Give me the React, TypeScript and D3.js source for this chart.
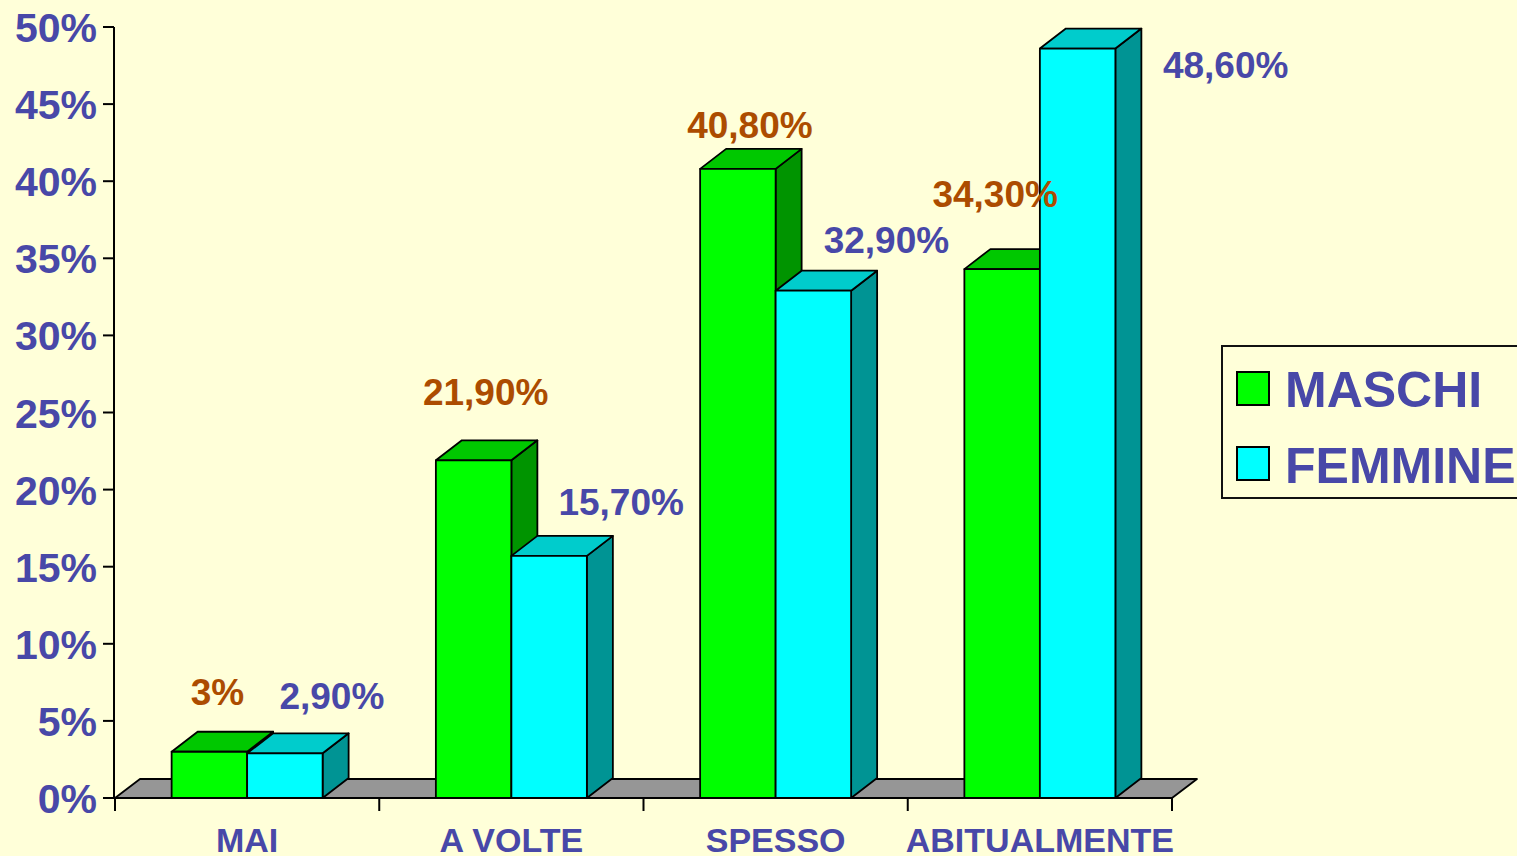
import React from "react";
import * as d3 from "d3";

const categories = ["MAI", "A VOLTE", "SPESSO", "ABITUALMENTE"];
const series = ["MASCHI", "FEMMINE"];
const maschi = [3, 21.9, 40.8, 34.3];
const femmine = [2.9, 15.7, 32.9, 48.6];
const valueLabels = [
    ["3%", "21,90%", "40,80%", "34,30%"],
    ["2,90%", "15,70%", "32,90%", "48,60%"],
];
const yTicks = [0, 5, 10, 15, 20, 25, 30, 35, 40, 45, 50];

// hand-placed label nudges (px) as in the original slide: [dx from bar centre, rise above bar top]
const labelNudge = [
    [[8, 47], [12, 55], [12, 31], [-7, 62]],
    [[47, 44], [72, 41], [73, 38], [148, -29]],
];

const W = 1517;
const H = 856;
const BG = "#FFFFD9";
const BLUE = "#4848A8";
const BROWN = "#AC4C00";
const FONT = "'Liberation Sans', Arial, sans-serif";

const faces = [
    { front: "#00FF00", top: "#00C800", side: "#009400" },
    { front: "#00FFFF", top: "#00CCCC", side: "#009494" },
];

const DX = 26;
const DY = 20;

export default function App() {
    const y = d3.scaleLinear().domain([0, 50]).range([798, 27]);
    const x0 = d3.scaleBand().domain(categories).range([115, 1172]).padding(0);
    const x1 = d3
        .scaleBand()
        .domain(series)
        .range([0, x0.bandwidth()])
        .paddingInner(0)
        .paddingOuter(0.75);

    const values = [maschi, femmine];
    const base = y(0);

    const bars: JSX.Element[] = [];
    categories.forEach((cat, ci) => {
        series.forEach((s, si) => {
            const v = values[si][ci];
            const x = x0(cat)! + x1(s)!;
            const w = x1.bandwidth();
            const top = y(v);
            const c = faces[si];
            bars.push(
                <g key={cat + s} stroke="#000" strokeWidth={1.8} strokeLinejoin="round">
                    <path
                        d={`M${x + w},${base} L${x + w + DX},${base - DY} L${x + w + DX},${top - DY} L${x + w},${top} Z`}
                        fill={c.side}
                    />
                    <path
                        d={`M${x},${top} L${x + DX},${top - DY} L${x + w + DX},${top - DY} L${x + w},${top} Z`}
                        fill={c.top}
                    />
                    <rect x={x} y={top} width={w} height={base - top} fill={c.front} />
                </g>
            );
        });
    });

    const labels: JSX.Element[] = [];
    categories.forEach((cat, ci) => {
        series.forEach((s, si) => {
            const v = values[si][ci];
            const cx = x0(cat)! + x1(s)! + x1.bandwidth() / 2;
            const [ndx, rise] = labelNudge[si][ci];
            labels.push(
                <text
                    key={"l" + cat + s}
                    x={cx + ndx}
                    y={y(v) - rise}
                    textAnchor="middle"
                    fontSize={37}
                    fontWeight="bold"
                    fill={si === 0 ? BROWN : BLUE}
                >
                    {valueLabels[si][ci]}
                </text>
            );
        });
    });

    const x0L = x0.range()[0];
    const x0R = x0.range()[1];

    return (
        <svg
            width={W}
            height={H}
            style={{ position: "absolute", left: 0, top: 0, fontFamily: FONT }}
        >
            <rect width={W} height={H} fill={BG} />

            {/* floor */}
            <path
                d={`M${x0L},${base} L${x0R},${base} L${x0R + 25},${base - 19} L${x0L + 25},${base - 19} Z`}
                fill="#969696"
                stroke="#000"
                strokeWidth={1.8}
                strokeLinejoin="round"
            />

            {/* y axis */}
            <line x1={114} x2={114} y1={y(50)} y2={base} stroke="#000" strokeWidth={2} />
            {yTicks.map((t) => (
                <g key={t}>
                    <line x1={103} x2={114} y1={y(t)} y2={y(t)} stroke="#000" strokeWidth={2} />
                    <text
                        x={97}
                        y={y(t) + 15}
                        textAnchor="end"
                        fontSize={41}
                        fontWeight="bold"
                        fill={BLUE}
                    >
                        {t}%
                    </text>
                </g>
            ))}

            {/* x ticks */}
            {[...categories.map((c) => x0(c)!), x0R].map((tx, i) => (
                <line key={i} x1={tx} x2={tx} y1={base} y2={base + 13} stroke="#000" strokeWidth={2} />
            ))}
            {categories.map((c) => (
                <text
                    key={c}
                    x={x0(c)! + x0.bandwidth() / 2}
                    y={852}
                    textAnchor="middle"
                    fontSize={34}
                    fontWeight="bold"
                    fill={BLUE}
                >
                    {c}
                </text>
            ))}

            {bars}
            {labels}

            {/* legend */}
            <rect x={1222} y={346} width={320} height={152} fill={BG} stroke="#111" strokeWidth={2} />
            {series.map((s, si) => (
                <g key={s}>
                    <rect
                        x={1237}
                        y={372 + si * 75}
                        width={32}
                        height={33}
                        fill={faces[si].front}
                        stroke="#000"
                        strokeWidth={2}
                    />
                    <text x={1285} y={407 + si * 76} fontSize={50} fontWeight="bold" fill={BLUE}>
                        {s}
                    </text>
                </g>
            ))}
        </svg>
    );
}
